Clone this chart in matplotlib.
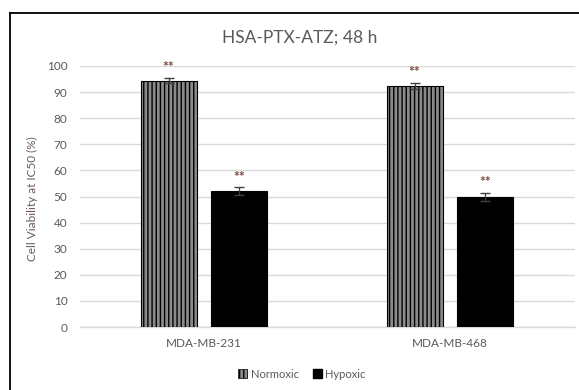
import matplotlib
matplotlib.use("Agg")
import matplotlib.pyplot as plt
from matplotlib.lines import Line2D
from matplotlib.patches import Patch
import numpy as np

plt.rcParams['font.family'] = ['Lato', 'DejaVu Sans']
plt.rcParams['hatch.linewidth'] = 1.0

categories = ["MDA-MB-231", "MDA-MB-468"]
normoxic = [94.4, 92.4]
normoxic_err = [1.0, 1.1]
hypoxic = [52.0, 49.7]
hypoxic_err = [1.5, 1.6]
sig_labels = ["**", "**"]
yticks = [0, 10, 20, 30, 40, 50, 60, 70, 80, 90, 100]

W, H = 579, 390
L, R = 80, 575
fig = plt.figure(figsize=(W/100, H/100), dpi=100)
ax = fig.add_axes([L/W, 1-327/H, (R-L)/W, (327-66)/H])

x = np.arange(len(categories))
bw = 0.228
off = 0.144
tc = '#595959'

ax.bar(x - off, normoxic, bw, color='#8a8a8a', edgecolor='black', hatch='||||', linewidth=0.8, zorder=3)
ax.bar(x + off, hypoxic, bw, color='black', edgecolor='black', linewidth=0.8, zorder=3)
ax.errorbar(x - off, normoxic, yerr=normoxic_err, fmt='none', ecolor='#404040', elinewidth=0.9, capsize=3.5, zorder=4)
ax.errorbar(x + off, hypoxic, yerr=hypoxic_err, fmt='none', ecolor='#404040', elinewidth=0.9, capsize=3.5, zorder=4)

for xi, v, e, s in zip(x - off, normoxic, normoxic_err, sig_labels):
    ax.text(xi, v + e + 1.8, s, ha='center', va='bottom', color='#7a4a40', fontsize=10, fontweight='bold')
for xi, v, e, s in zip(x + off, hypoxic, hypoxic_err, sig_labels):
    ax.text(xi, v + e + 1.8, s, ha='center', va='bottom', color='#7a4a40', fontsize=10, fontweight='bold')

ax.set_xlim(-0.504, 1.508)
ax.set_ylim(0, 100)
ax.set_yticks(yticks)
ax.set_xticks(x)
ax.set_xticklabels(categories)
ax.tick_params(axis='both', length=0, colors=tc, labelsize=8.5)
ax.tick_params(axis='y', pad=9)
ax.tick_params(axis='x', pad=8)
ax.grid(axis='y', color='#d9d9d9', linewidth=1.0, zorder=0)
for sp in ['top', 'right', 'left']:
    ax.spines[sp].set_visible(False)
ax.spines['bottom'].set_color('#d9d9d9')
ax.spines['bottom'].set_linewidth(1.0)
ax.set_ylabel("Cell Viability at IC50 (%)", color='#6b5a55', fontsize=8.5)
ax.yaxis.set_label_coords((38 - L) / (R - L), 0.49)

fig.text(300/W, 1-38/H, "HSA-PTX-ATZ; 48 h", ha='center', va='center', fontsize=12.5, color=tc)

handles = [Patch(facecolor='#8a8a8a', edgecolor='black', hatch='||||', linewidth=0.5),
           Patch(facecolor='black', edgecolor='black')]
fig.legend(handles, ["Normoxic", "Hypoxic"], loc='center', bbox_to_anchor=(302/W, 1-374/H),
           ncol=2, frameon=False, fontsize=8, handlelength=0.8, handleheight=0.8,
           handletextpad=0.3, columnspacing=1.3, labelcolor=tc)

# outer chart border (partially visible)
fig.add_artist(Line2D([10/W, 10/W], [1-13/H, 0], transform=fig.transFigure, color='black', linewidth=1.3))
fig.add_artist(Line2D([10/W, 1], [1-13/H, 1-13/H], transform=fig.transFigure, color='black', linewidth=1.3))

fig.savefig("out.png", dpi=100)
